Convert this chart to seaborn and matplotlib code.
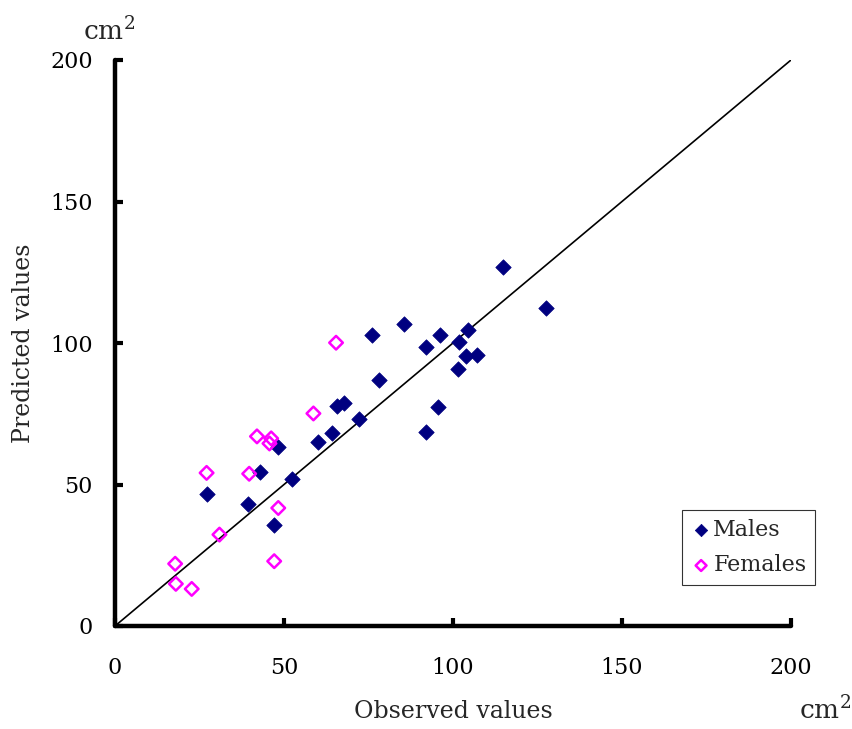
import matplotlib
matplotlib.use("Agg")
import matplotlib.pyplot as plt
import seaborn as sns
import pandas as pd

males_obs = [27.1, 39.4, 42.9, 48.3, 47.1, 52.5, 60.1, 64.1, 65.8, 67.8, 72.3, 75.9, 78.1,
             85.5, 92.0, 92.0, 95.7, 96.1, 101.4, 101.9, 103.8, 104.5, 107.2, 114.9, 127.5]
males_pred = [46.6, 43.0, 54.4, 63.4, 35.7, 52.1, 65.0, 68.1, 77.8, 78.7, 73.2, 102.9, 86.8,
              106.7, 98.7, 68.4, 77.3, 102.9, 90.8, 100.2, 95.5, 104.7, 95.9, 126.8, 112.3]
females_obs = [42.0, 46.2, 45.7, 27.1, 39.7, 48.3, 30.9, 17.8, 18.0, 22.7, 47.1, 65.4, 58.7]
females_pred = [67.0, 66.3, 64.5, 54.1, 53.8, 41.7, 32.3, 22.0, 14.9, 13.1, 22.9, 100.1, 75.1]
ref_line = [0, 200]
ticks = [0, 50, 100, 150, 200]

sns.set_theme(style="white")
plt.rcParams['font.family'] = ['DejaVu Serif']
plt.rcParams['mathtext.default'] = 'regular'

fig = plt.figure(figsize=(8.53, 7.29), dpi=100)
ax = fig.add_axes([115/853, 1-626/729, 676/853, 566/729])

sns.lineplot(x=ref_line, y=ref_line, color='black', linewidth=1.2, ax=ax)
sns.scatterplot(x=males_obs, y=males_pred, marker='D', color='#000080', edgecolor='#000080',
                s=62, linewidth=0.5, label='Males', ax=ax, zorder=3)
sns.scatterplot(x=females_obs, y=females_pred, marker='D', color='#FF00FF',
                s=48, linewidth=1.8, label='Females', ax=ax, zorder=3)
coll = ax.collections[-1]
coll.set_facecolor('none')
coll.set_edgecolor('#FF00FF')

ax.set_xlim(0, 200)
ax.set_ylim(0, 200)
ax.set_xticks(ticks)
ax.set_yticks(ticks)
for s in ['top', 'right']:
    ax.spines[s].set_visible(False)
for s in ['left', 'bottom']:
    ax.spines[s].set_linewidth(3.2)
    ax.spines[s].set_color('black')
    ax.spines[s].set_capstyle('round')
ax.tick_params(axis='both', direction='in', length=6, width=3, colors='black', labelsize=16)
ax.tick_params(axis='x', pad=22, bottom=True)
ax.tick_params(axis='y', pad=16, left=True)

ax.set_xlabel('Observed values', fontsize=17)
ax.set_ylabel('Predicted values', fontsize=17)
ax.xaxis.set_label_coords(0.5, -(711 - 626) / 566, transform=ax.transAxes)
ax.xaxis.label.set_va('center')
ax.yaxis.set_label_coords(-(115 - 24) / 676, 0.5, transform=ax.transAxes)
ax.yaxis.label.set_va('center')

fig.text(109/853, 1-31/729, 'cm$^2$', fontsize=19, ha='center', va='center')
fig.text(825/853, 1-710/729, 'cm$^2$', fontsize=19, ha='center', va='center')

leg = ax.legend(loc='lower right', bbox_to_anchor=(1.036, 0.072), fontsize=16,
                frameon=True, fancybox=False, edgecolor='black', handletextpad=0.1,
                handlelength=0.9, borderpad=0.4, labelspacing=0.6, markerscale=0.8,
                borderaxespad=0)
leg.get_frame().set_linewidth(0.8)
leg.legend_handles[1].set_facecolor('none')

fig.savefig('out.png', dpi=100)
